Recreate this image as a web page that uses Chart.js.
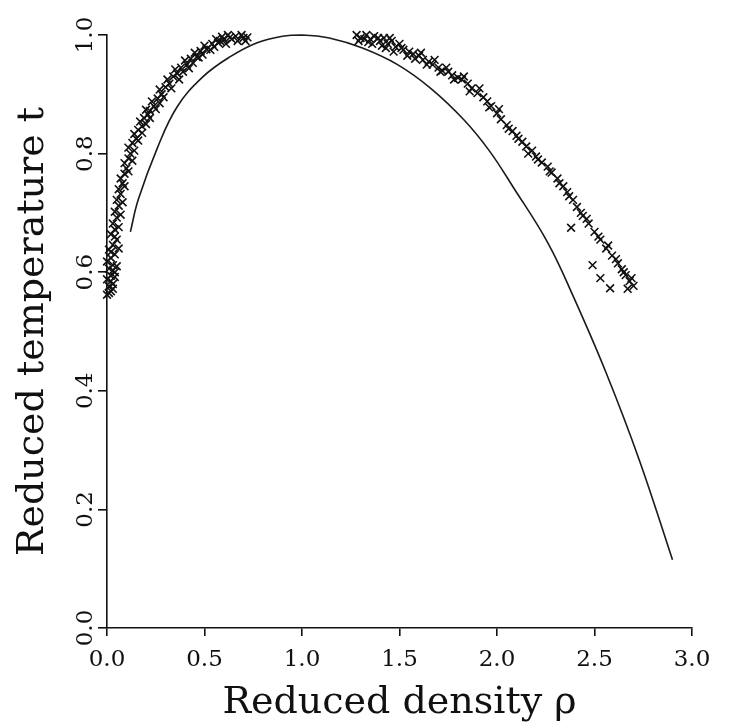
<!DOCTYPE html>
<html>
<head>
<meta charset="utf-8">
<script src="https://cdn.jsdelivr.net/npm/chart.js@4/dist/chart.umd.min.js"></script>
<style>
  html, body { margin: 0; padding: 0; background: #fff; }
</style>
</head>
<body>
<canvas id="chart" width="734" height="726"></canvas>
<script>
// liquid branch (left) and vapour branch (right) simulation points
const leftRho = [0.00,0.02,0.01,0.03,0.00,0.02,0.04,0.01,0.03,0.00,0.02,0.04,0.01,0.03,0.05,0.02,0.04,0.03,0.05,0.04,
  0.06,0.05,0.07,0.06,0.08,0.07,0.09,0.10,0.09,0.11,0.12,0.11,0.13,0.15,0.14,0.16,0.18,0.17,0.19,0.21,0.20,
  0.22,0.24,0.23,0.26,0.28,0.27,0.30,0.32,0.31,0.34,0.36,0.35,0.38,0.41,0.40,0.43,0.46,0.45,0.48,0.51,0.50,
  0.54,0.57,0.56,0.60,0.63,0.62,0.66,0.69,0.72,0.71,
  0.01,0.03,0.02,0.04,0.03,0.05,0.02,0.06,0.04,0.06,0.07,0.08,0.09,0.11,0.13,0.14,0.16,0.18,0.20,0.22,
  0.25,0.27,0.29,0.33,0.37,0.39,0.42,0.44,0.47,0.49,0.53,0.55,0.58,0.61,0.64,0.67,0.70,0.59];
const leftT = [0.562,0.568,0.576,0.580,0.588,0.594,0.600,0.606,0.612,0.618,0.624,0.630,0.638,0.646,0.655,0.664,0.672,0.682,0.692,0.702,
  0.712,0.722,0.732,0.740,0.750,0.758,0.766,0.775,0.784,0.792,0.800,0.810,0.818,0.825,0.833,0.840,0.846,0.854,0.860,0.866,0.874,
  0.872,0.880,0.888,0.893,0.900,0.908,0.912,0.918,0.925,0.930,0.935,0.942,0.945,0.950,0.957,0.960,0.963,0.970,0.973,0.976,0.982,
  0.985,0.987,0.993,0.992,0.996,1.000,0.998,1.000,0.996,0.990,
  0.565,0.572,0.585,0.592,0.603,0.610,0.634,0.640,0.660,0.676,0.697,0.718,0.745,0.770,0.788,0.805,0.822,0.835,0.850,0.860,
  0.875,0.885,0.895,0.910,0.925,0.938,0.944,0.953,0.962,0.967,0.975,0.980,0.990,0.985,0.993,0.990,0.995,0.997];

const rightRho = [1.28,1.30,1.33,1.35,1.37,1.40,1.42,1.44,1.46,1.48,1.50,1.52,1.55,1.57,1.60,1.62,1.65,1.67,1.70,1.72,
  1.75,1.77,1.80,1.82,1.85,1.87,1.90,1.93,1.95,1.97,2.00,2.02,2.05,2.08,2.10,2.13,2.15,2.18,2.20,2.23,
  2.26,2.28,2.31,2.34,2.36,2.39,2.41,2.44,2.47,2.50,2.53,2.56,2.59,2.62,2.64,2.66,2.68,2.70,2.67,
  2.38,2.49,2.53,2.58,
  1.29,1.32,1.34,1.36,1.39,1.41,1.43,1.45,1.47,1.51,1.54,1.58,1.61,1.64,1.68,1.71,1.74,1.78,1.83,1.86,
  1.91,1.96,2.01,2.06,2.11,2.16,2.21,2.27,2.32,2.37,2.43,2.46,2.52,2.57,2.61,2.65,2.69];
const rightT = [1.000,0.995,1.000,0.993,0.998,0.990,0.995,0.985,0.990,0.980,0.985,0.975,0.972,0.968,0.965,0.958,0.955,0.950,0.945,0.940,
  0.938,0.932,0.928,0.925,0.918,0.910,0.902,0.895,0.888,0.880,0.868,0.858,0.848,0.838,0.830,0.820,0.812,0.805,0.795,0.785,
  0.778,0.768,0.758,0.745,0.735,0.722,0.710,0.695,0.682,0.668,0.655,0.640,0.628,0.615,0.605,0.595,0.585,0.577,0.572,
  0.675,0.612,0.590,0.573,
  0.990,0.993,0.988,0.985,0.995,0.982,0.978,0.995,0.972,0.978,0.965,0.960,0.970,0.950,0.958,0.938,0.945,0.925,0.930,0.905,
  0.910,0.878,0.875,0.842,0.825,0.800,0.790,0.770,0.750,0.728,0.700,0.690,0.660,0.645,0.622,0.600,0.590];

// theoretical coexistence curve
const curveRho = [0.12,0.16,0.26,0.36,0.49,0.63,0.77,0.90,1.00,1.14,1.31,1.49,1.66,1.83,1.96,2.08,2.26,2.39,2.56,2.73,2.90];
const curveT = [0.668,0.722,0.811,0.879,0.929,0.963,0.987,0.998,1.000,0.995,0.978,0.950,0.910,0.857,0.805,0.745,0.650,0.560,0.430,0.283,0.115];

const xTicks = [0.0, 0.5, 1.0, 1.5, 2.0, 2.5, 3.0];
const yTicks = [0.0, 0.2, 0.4, 0.6, 0.8, 1.0];

const toPts = (xs, ys) => xs.map((x, i) => ({ x, y: ys[i] }));
const serif = '"DejaVu Serif", "Liberation Serif", serif';

// y tick labels are rotated in the original, chart.js won't rotate them on a vertical axis
const rotatedYLabels = {
  id: 'rotatedYLabels',
  afterDraw(chart) {
    const { ctx, scales: { y } } = chart;
    ctx.save();
    ctx.fillStyle = '#111';
    ctx.font = '23px ' + serif;
    ctx.textAlign = 'center';
    ctx.textBaseline = 'middle';
    yTicks.forEach(v => {
      ctx.save();
      ctx.translate(86, y.getPixelForValue(v));
      ctx.rotate(-Math.PI / 2);
      ctx.fillText(v.toFixed(1), 0, 0);
      ctx.restore();
    });
    ctx.restore();
  }
};

const crossSet = (label, xs, ys) => ({
  label,
  data: toPts(xs, ys),
  pointStyle: 'crossRot',
  pointRadius: 5.5,
  borderColor: '#111',
  borderWidth: 1.6,
  clip: false
});

new Chart(document.getElementById('chart'), {
  type: 'scatter',
  data: {
    datasets: [
      {
        label: 'curve',
        data: toPts(curveRho, curveT),
        showLine: true,
        borderColor: '#1a1a1a',
        borderWidth: 1.6,
        pointRadius: 0,
        tension: 0.4,
        clip: false
      },
      crossSet('left', leftRho, leftT),
      crossSet('right', rightRho, rightT)
    ]
  },
  options: {
    responsive: false,
    animation: false,
    layout: { padding: { top: 35, right: 42, left: 0, bottom: 0 } },
    plugins: { legend: { display: false }, tooltip: { enabled: false } },
    scales: {
      x: {
        type: 'linear',
        min: 0,
        max: 3,
        afterBuildTicks: s => { s.ticks = xTicks.map(v => ({ value: v })); },
        afterFit: s => { s.height = 98; },
        border: { color: '#111', width: 1.6 },
        grid: { drawOnChartArea: false, drawTicks: true, tickLength: 8, color: '#111', lineWidth: 1.6 },
        ticks: {
          color: '#111',
          font: { family: serif, size: 23 },
          padding: 10,
          maxRotation: 0,
          callback: v => v.toFixed(1)
        },
        title: {
          display: true,
          text: 'Reduced density ρ',
          color: '#111',
          font: { family: serif, size: 38 },
          padding: { top: 0, bottom: 0 }
        }
      },
      y: {
        type: 'linear',
        min: 0,
        max: 1,
        afterBuildTicks: s => { s.ticks = yTicks.map(v => ({ value: v })); },
        afterFit: s => { s.width = 107; },
        border: { color: '#111', width: 1.6 },
        grid: { drawOnChartArea: false, drawTicks: true, tickLength: 9, color: '#111', lineWidth: 1.6 },
        ticks: { display: false },
        title: {
          display: true,
          text: 'Reduced temperature t',
          color: '#111',
          font: { family: serif, size: 38 },
          padding: { top: 10, bottom: 0 }
        }
      }
    }
  },
  plugins: [rotatedYLabels]
});
</script>
</body>
</html>
